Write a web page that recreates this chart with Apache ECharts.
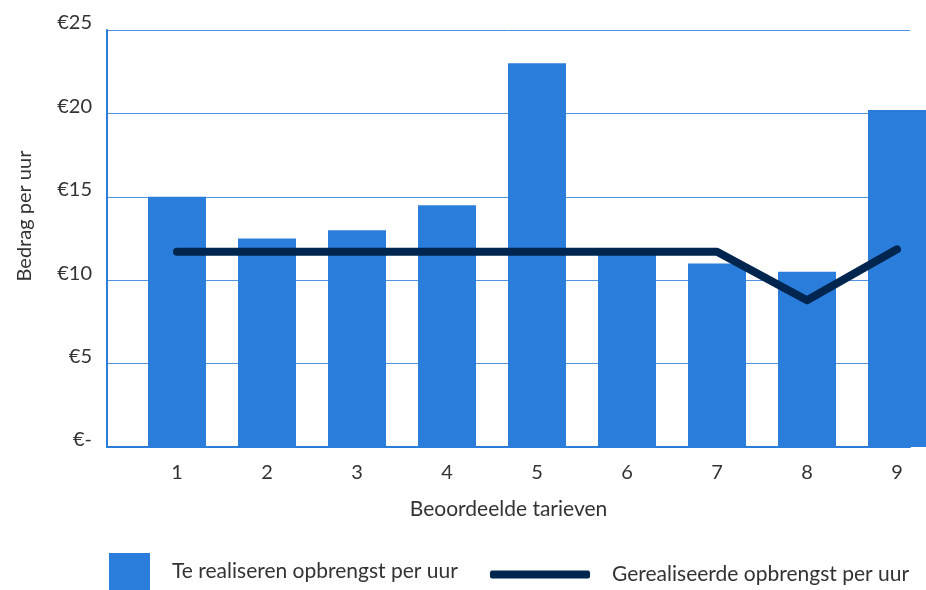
<!DOCTYPE html>
<html>
<head>
<meta charset="utf-8">
<script src="https://cdn.jsdelivr.net/npm/echarts@6/dist/echarts.min.js"></script>
<style>
  html, body { margin: 0; padding: 0; background: #fff; }
  #chart { width: 926px; height: 590px; }
</style>
</head>
<body>
<div id="chart"></div>
<script>
// data
const categories = ['1', '2', '3', '4', '5', '6', '7', '8', '9'];
const targetValues = [15, 12.5, 13, 14.5, 23, 11.7, 11, 10.5, 20.2];
const realizedValues = [11.7, 11.7, 11.7, 11.7, 11.7, 11.7, 11.7, 8.8, 11.85];
const targetName = 'Te realiseren opbrengst per uur';
const realizedName = 'Gerealiseerde opbrengst per uur';

const font = 'Lato';
const textColor = '#333';
const blue = '#2a7ddb';
const navy = '#00264f';

var chart = echarts.init(document.getElementById('chart'));
var option = {
    animation: false,
    textStyle: {fontFamily: font},
    grid: [
        // frame: axis lines + gridlines
        {left: 107, right: 16, top: 30, bottom: 143},
        // data: category 1 .. 9 on the ticks, bars overflow to the right edge
        {left: 177, right: 29, top: 30, bottom: 143}
    ],
    xAxis: [
        {
            type: 'category',
            gridIndex: 0,
            data: categories,
            axisLine: {show: true, lineStyle: {color: blue, width: 2}},
            axisTick: {show: false},
            axisLabel: {show: false},
            name: 'Beoordeelde tarieven',
            nameLocation: 'middle',
            nameGap: 52,
            nameTextStyle: {fontSize: 21, color: textColor, fontFamily: font}
        },
        {
            type: 'category',
            gridIndex: 1,
            data: categories,
            boundaryGap: false,
            axisLine: {show: false},
            axisTick: {show: false},
            axisLabel: {fontSize: 20, color: textColor, margin: 16, fontFamily: font}
        }
    ],
    yAxis: [
        {
            type: 'value',
            gridIndex: 0,
            min: 0,
            max: 25,
            interval: 5,
            axisLine: {show: true, lineStyle: {color: blue, width: 2}},
            axisTick: {show: false},
            splitLine: {lineStyle: {color: '#4f93e2', width: 1}},
            axisLabel: {
                fontSize: 20,
                color: textColor,
                margin: 15,
                fontFamily: font,
                verticalAlign: 'bottom',
                lineHeight: 14,
                formatter: function (v) {
                    return v === 0 ? '€-' : '€' + v;
                }
            }
        },
        {
            type: 'value',
            gridIndex: 1,
            min: 0,
            max: 25,
            show: false
        }
    ],
    legend: [
        {
            data: [targetName],
            left: 109,
            top: 553,
            padding: 0,
            icon: 'rect',
            itemWidth: 41,
            itemHeight: 37,
            textStyle: {fontSize: 21, color: textColor, fontFamily: font, padding: [10, 0, 0, 17]}
        },
        {
            data: [realizedName],
            left: 490,
            top: 564,
            padding: 0,
            icon: 'roundRect',
            itemWidth: 100,
            itemHeight: 8,
            textStyle: {fontSize: 21, color: textColor, fontFamily: font, padding: [2, 0, 0, 17]}
        }
    ],
    graphic: [
        {
            type: 'text',
            x: 25,
            y: 216,
            rotation: Math.PI / 2,
            style: {
                text: 'Bedrag per uur',
                fontSize: 20,
                fontFamily: font,
                fill: textColor,
                align: 'center',
                verticalAlign: 'middle'
            }
        }
    ],
    series: [
        {
            name: targetName,
            type: 'bar',
            xAxisIndex: 1,
            yAxisIndex: 1,
            barWidth: 58,
            clip: false,
            itemStyle: {color: blue},
            data: targetValues
        },
        {
            name: realizedName,
            type: 'line',
            xAxisIndex: 1,
            yAxisIndex: 1,
            symbol: 'none',
            clip: false,
            z: 5,
            itemStyle: {color: navy},
            lineStyle: {color: navy, width: 8, cap: 'round', join: 'round'},
            data: realizedValues
        }
    ]
};
chart.setOption(option);
</script>
</body>
</html>
